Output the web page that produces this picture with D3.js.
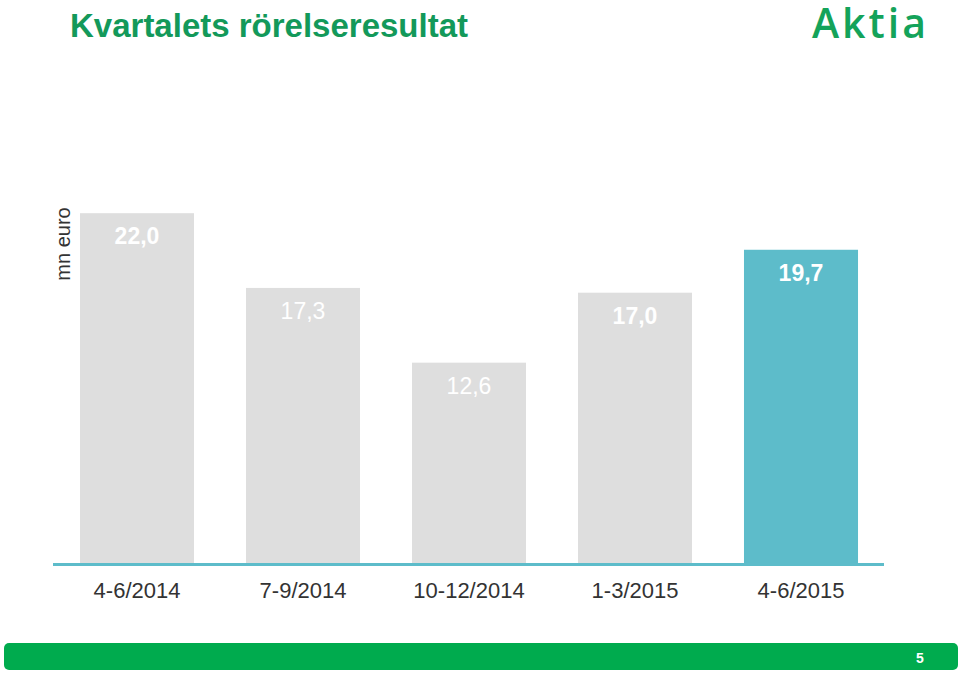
<!DOCTYPE html>
<html>
<head>
<meta charset="utf-8">
<script src="https://cdn.jsdelivr.net/npm/d3@7"></script>
<style>
  body { margin: 0; background: #fff; }
  svg { display: block; font-family: "Liberation Sans", Arial, sans-serif; }
</style>
</head>
<body>
<div class="container"></div>
<script>
const WIDTH = 960;
const HEIGHT = 674;

// data
const quarters = ['4-6/2014', '7-9/2014', '10-12/2014', '1-3/2015', '4-6/2015'];
const result = [22.0, 17.3, 12.6, 17.0, 19.7];
const boldLabel = [true, false, false, true, true];

const BASE_Y = 563;
const PX_PER_UNIT = 15.9;

var svg = d3.select('.container').append('svg')
  .attr('width', WIDTH)
  .attr('height', HEIGHT);

var x = d3.scaleBand()
  .domain(quarters)
  .range([54, 884])
  .paddingInner(0.313)
  .paddingOuter(0.1565);

var y = d3.scaleLinear()
  .domain([0, 22])
  .range([BASE_Y, BASE_Y - 22 * PX_PER_UNIT]);

// title
svg.append('text')
  .attr('x', 70).attr('y', 37)
  .attr('fill', '#13995a')
  .attr('font-size', 33)
  .attr('font-weight', 'bold')
  .text('Kvartalets rörelseresultat');

// logo
svg.append('text')
  .attr('x', 812).attr('y', 38)
  .attr('fill', '#14a35a')
  .attr('font-family', '"Open Sans", "DejaVu Sans", sans-serif')
  .attr('font-size', 41)
  .attr('font-weight', 600)
  .attr('letter-spacing', 3)
  .text('Aktia');

// y label
svg.append('text')
  .attr('transform', 'translate(70,244) rotate(-90)')
  .attr('text-anchor', 'middle')
  .attr('fill', '#333')
  .attr('font-size', 20)
  .text('mn euro');

// bars
svg.selectAll('rect.bar')
  .data(result)
  .enter().append('rect')
  .attr('class', 'bar')
  .attr('x', function (d, i) { return x(quarters[i]); })
  .attr('y', function (d) { return y(d); })
  .attr('width', x.bandwidth())
  .attr('height', function (d) { return y(0) - y(d); })
  .attr('fill', function (d, i) { return i === quarters.length - 1 ? '#5dbcca' : '#dedede'; });

// value labels
svg.selectAll('text.val')
  .data(result)
  .enter().append('text')
  .attr('class', 'val')
  .attr('x', function (d, i) { return x(quarters[i]) + x.bandwidth() / 2; })
  .attr('y', function (d) { return y(d) + 31; })
  .attr('text-anchor', 'middle')
  .attr('fill', '#ffffff')
  .attr('font-size', 23)
  .attr('font-weight', function (d, i) { return boldLabel[i] ? 'bold' : 'normal'; })
  .text(function (d) { return d.toFixed(1).replace('.', ','); });

// baseline
svg.append('line')
  .attr('x1', 53).attr('x2', 884)
  .attr('y1', BASE_Y + 1.5).attr('y2', BASE_Y + 1.5)
  .attr('stroke', '#5dbcca')
  .attr('stroke-width', 3);

// category axis
var xAxis = d3.axisBottom(x).tickSize(0).tickPadding(0);
var axisG = svg.append('g')
  .attr('transform', 'translate(0,' + (BASE_Y + 3) + ')')
  .call(xAxis);
axisG.select('.domain').remove();
axisG.selectAll('text')
  .attr('dy', null)
  .attr('y', 32)
  .attr('fill', '#333')
  .attr('font-size', 22)
  .attr('font-family', '"Liberation Sans", Arial, sans-serif');

// footer
svg.append('rect')
  .attr('x', 4).attr('y', 643)
  .attr('width', 954).attr('height', 27)
  .attr('rx', 5)
  .attr('fill', '#00ab4e');
svg.append('text')
  .attr('x', 920).attr('y', 663)
  .attr('text-anchor', 'middle')
  .attr('fill', '#fff')
  .attr('font-size', 14)
  .attr('font-weight', 'bold')
  .text('5');
</script>
</body>
</html>
